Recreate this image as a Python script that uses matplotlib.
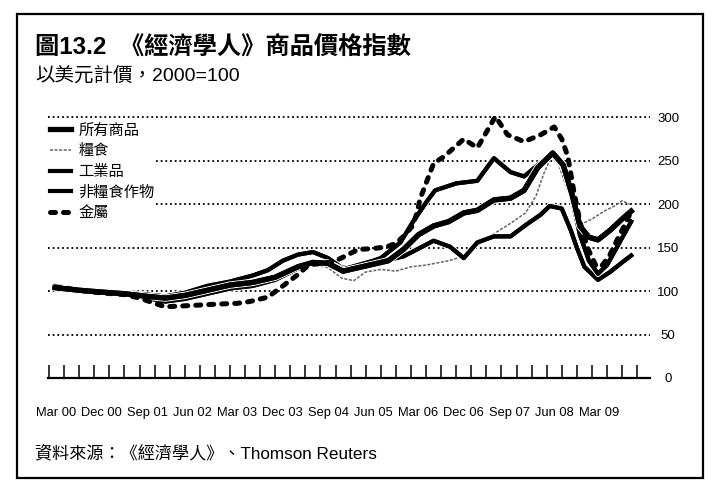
import matplotlib
matplotlib.use("Agg")
import matplotlib.pyplot as plt
import matplotlib.patheffects as pe
from matplotlib.lines import Line2D
from matplotlib.patches import Rectangle

plt.rcParams['font.family'] = ['Liberation Sans', 'Noto Sans CJK TC', 'DejaVu Sans']

# x in quarters from Mar 00 (tick 0 = Mar 00)
tick_labels = ["Mar 00", "Dec 00", "Sep 01", "Jun 02", "Mar 03", "Dec 03", "Sep 04",
               "Jun 05", "Mar 06", "Dec 06", "Sep 07", "Jun 08", "Mar 09"]
n_ticks = 40
y_ticks = [0, 50, 100, 150, 200, 250, 300]

# 金屬
metals_x = [0.4, 2, 3.4, 5, 6, 7, 7.7, 8.9, 10, 11.1, 12.5, 13.3, 14.5, 15.2, 16.5, 17.2,
            18.9, 19.6, 20.5, 21.5, 22.4, 23, 23.5, 24.1, 24.4, 24.6, 25.5, 26.2, 27.5, 28.4,
            29.6, 30.4, 31.5, 32.6, 33.5, 34.0, 34.4, 34.8, 35.2, 35.7, 36.3, 36.7, 37.2,
            37.7, 38.2, 38.5]
metals_y = [105, 101, 98, 96, 92, 86, 82, 83, 84, 85, 86, 88, 93, 102, 119, 130,
            134, 140, 148, 149, 151, 155, 163, 175, 190, 206, 247, 255, 275, 265,
            301, 280, 272, 280, 289, 275, 255, 215, 180, 150, 128, 130, 142,
            160, 177, 188]

# 工業品
indus_x = [0.4, 2, 3.4, 5, 6.5, 7.7, 9, 10.5, 12, 13.5, 15, 16.5, 17.5, 18.5, 19.5, 20.5,
           21.5, 22, 23.3, 24.1, 25, 25.6, 27, 28.4, 29.5, 30.6, 31.5, 32.4, 33.4, 34.2,
           34.7, 35.2, 35.8, 36.4, 37.0, 37.8, 38.6]
indus_y = [105, 101, 99, 97, 92, 88, 91, 97, 103, 106, 113, 126, 132, 133, 125, 130,
           135, 138, 156, 179, 202, 216, 224, 227, 253, 237, 232, 245, 259, 240,
           205, 165, 135, 120, 130, 155, 180]

# 所有商品
all_x = [0.4, 2, 3.4, 5, 6.5, 7.7, 9, 10.5, 12, 13.5, 15, 16.5, 17.5, 18.5, 19.5, 20.5,
         21.5, 22.5, 23.5, 24.5, 25.5, 26.5, 27.5, 28.4, 29.5, 30.6, 31.5, 32.4, 33.4,
         34.1, 34.7, 35.2, 35.8, 36.4, 37.2, 38.0, 38.6]
all_y = [104, 101, 99, 97, 94, 92, 95, 101, 107, 110, 116, 128, 133, 132, 123, 127,
         131, 135, 148, 165, 175, 180, 190, 193, 205, 207, 216, 242, 259,
         245, 210, 175, 162, 159, 170, 183, 192]

# 非糧食作物
nfa_x = [0.4, 2, 3.4, 5, 6.5, 7.7, 9, 10.5, 12, 13.5, 14.5, 15.5, 16.5, 17.5, 18.5, 19.4,
         20.2, 21.5, 22.5, 23.5, 24.4, 25.5, 26.6, 27.5, 28.4, 29.5, 30.6, 31.6, 32.6,
         33.2, 34.0, 34.6, 35.0, 35.5, 36.4, 37.2, 38.0, 38.6]
nfa_y = [106, 102, 100, 98, 96, 94, 98, 106, 111, 118, 124, 135, 142, 145, 138, 127,
         126, 133, 136, 140, 148, 158, 151, 138, 156, 163, 163, 176, 188,
         198, 195, 170, 150, 128, 113, 122, 133, 141]

# 糧食
food_x = [0.4, 2, 3.4, 5, 6.5, 7.7, 9, 10.5, 12, 13.5, 15, 16.5, 17.5, 18.5, 19.4, 20.2,
          21, 22, 23, 24, 25, 26.5, 27.5, 28.4, 29.5, 30.6, 31.6, 32.3, 32.8, 33.3, 33.8,
          34.4, 35.0, 35.4, 36.0, 36.8, 37.5, 38.0, 38.5]
food_y = [104, 102, 100, 98, 97, 95, 99, 106, 108, 112, 118, 130, 131, 127, 115, 112,
          122, 125, 123, 128, 130, 135, 140, 152, 166, 178, 190, 210, 235, 255, 245,
          215, 185, 178, 183, 192, 198, 204, 200]

W, H = 725, 501
fig = plt.figure(figsize=(W / 100, H / 100), dpi=100)
fig.patch.set_facecolor('white')

# axes placed in pixel terms
ax_l, ax_r, ax_b, ax_t = 48, 650, 378, 100
ax = fig.add_axes([ax_l / W, 1 - ax_b / H, (ax_r - ax_l) / W, (ax_b - ax_t) / H])
ax.set_xlim(-0.07, 39.85)
ax.set_ylim(0, 320)

ax.plot(food_x, food_y, color='#666666', lw=1.1, ls=(0, (2, 1)), zorder=3)
ax.plot(nfa_x, nfa_y, color='black', lw=3.0, zorder=4, solid_joinstyle='round',
        path_effects=[pe.withStroke(linewidth=4.5, foreground='white'), pe.Normal()])
ax.plot(indus_x, indus_y, color='black', lw=3.0, zorder=5, solid_joinstyle='round',
        path_effects=[pe.withStroke(linewidth=4.5, foreground='white'), pe.Normal()])
ax.plot(all_x, all_y, color='black', lw=3.8, zorder=6, solid_joinstyle='round',
        path_effects=[pe.withStroke(linewidth=5.3, foreground='white'), pe.Normal()])
ax.plot(metals_x, metals_y, color='black', lw=3.6, ls=(0, (1.0, 1.6)), zorder=7,
        dash_capstyle='round')

# grid + spines
for s in ['top', 'left', 'right']:
    ax.spines[s].set_visible(False)
ax.spines['bottom'].set_linewidth(1.6)
ax.set_yticks(y_ticks)
ax.yaxis.tick_right()
ax.tick_params(axis='y', length=0, pad=13, labelsize=9.5)
for lbl in ax.get_yticklabels():
    lbl.set_horizontalalignment('center')
ax.yaxis.grid(True, color='black', lw=1.3, ls=(0, (1, 1.6)))
ax.set_axisbelow(True)

ax.set_xticks(range(n_ticks))
ax.set_xticklabels([])
ax.tick_params(axis='x', which='major', direction='in', length=9.5, width=1.1)
ax.set_xticks([i * 3 + 0.5 for i in range(len(tick_labels))], minor=True)
ax.set_xticklabels(tick_labels, minor=True)
ax.tick_params(axis='x', which='minor', length=0, pad=21, labelsize=9.3)

# legend
cjk = {'family': ['Noto Sans CJK TC', 'DejaVu Sans'], 'size': 11}
handles = [
    Line2D([], [], color='black', lw=3.8),
    Line2D([], [], color='#666666', lw=1.1, ls=(0, (2, 1))),
    Line2D([], [], color='black', lw=3.0),
    Line2D([], [], color='black', lw=3.0),
    Line2D([], [], color='black', lw=3.6, ls=(0, (1.0, 1.6)), dash_capstyle='round'),
]
names = ["所有商品", "糧食", "工業品", "非糧食作物", "金屬"]
leg = ax.legend(handles, names, loc='upper left', prop=cjk,
                bbox_to_anchor=(48 / W, 1 - 120 / H), bbox_transform=fig.transFigure,
                borderaxespad=0, borderpad=0.1, handlelength=1.4, handletextpad=0.5,
                labelspacing=0.24, frameon=True, fancybox=False, framealpha=1)
leg.get_frame().set_edgecolor('none')
leg.get_frame().set_facecolor('white')
leg.set_zorder(10)

# titles and source
fig.text(35 / W, 1 - 47 / H, "圖13.2  《經濟學人》商品價格指數", fontsize=17.5,
         fontweight='bold', va='center', ha='left')
fig.text(35 / W, 1 - 76 / H, "以美元計價，2000=100", fontsize=14, va='center', ha='left')
fig.text(35 / W, 1 - 453 / H, "資料來源：《經濟學人》、Thomson Reuters", fontsize=12.3,
         va='center', ha='left')

# outer frame
fig.patches.append(Rectangle((17 / W, 1 - 478 / H), (703 - 17) / W, (478 - 14) / H,
                             transform=fig.transFigure, fill=False, lw=1.6,
                             ec='black'))

fig.savefig("out.png", dpi=100)
